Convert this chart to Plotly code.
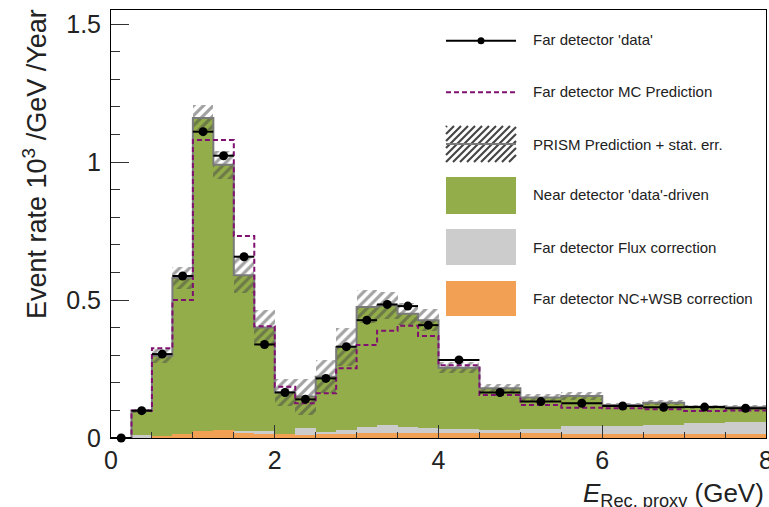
import numpy as np
import plotly.graph_objects as go

# ---------------- data ----------------
bin_edges = [0.0, 0.25, 0.5, 0.75, 1.0, 1.25, 1.5, 1.75, 2.0, 2.25, 2.5, 2.75, 3.0,
             3.25, 3.5, 3.75, 4.0, 4.5, 5.0, 5.5, 6.0, 6.5, 7.0, 7.5, 8.0]

fd_data = [0.0, 0.099, 0.304, 0.587, 1.110, 1.023, 0.657, 0.339, 0.165, 0.140, 0.216, 0.331,
           0.427, 0.484, 0.478, 0.409, 0.283, 0.165, 0.132, 0.126, 0.116, 0.111, 0.112, 0.108]

fd_mc = [0.0, 0.100, 0.325, 0.500, 1.080, 1.080, 0.732, 0.405, 0.186, 0.126, 0.162, 0.253,
         0.337, 0.389, 0.407, 0.370, 0.264, 0.156, 0.120, 0.110, 0.108, 0.104, 0.098, 0.100]

nd_driven = [0.0, 0.086, 0.292, 0.567, 1.133, 0.962, 0.565, 0.374, 0.152, 0.113, 0.200, 0.300,
             0.435, 0.432, 0.409, 0.392, 0.224, 0.152, 0.113, 0.109, 0.077, 0.080, 0.057, 0.052]

flux_corr = [0.0, 0.012, 0.0, 0.0, 0.0, 0.0, 0.006, 0.012, 0.0, 0.025, 0.006, 0.014,
             0.022, 0.029, 0.022, 0.016, 0.012, 0.010, 0.016, 0.027, 0.027, 0.033, 0.041, 0.044]

nc_wsb_corr = [0.0, 0.0, 0.006, 0.013, 0.027, 0.028, 0.019, 0.014, 0.013, 0.012, 0.016, 0.016,
               0.018, 0.019, 0.019, 0.019, 0.019, 0.018, 0.018, 0.016, 0.016, 0.015, 0.015, 0.015]

prism_stat_err = [0.0, 0.006, 0.025, 0.040, 0.045, 0.050, 0.065, 0.065, 0.050, 0.065, 0.060, 0.070,
                  0.060, 0.050, 0.040, 0.040, 0.020, 0.015, 0.012, 0.015, 0.008, 0.010, 0.008, 0.008]

legend_labels = ["Far detector 'data'", "Far detector MC Prediction", "PRISM Prediction + stat. err.",
                 "Near detector 'data'-driven", "Far detector Flux correction",
                 "Far detector NC+WSB correction"]

# ---------------- styles ----------------
GREEN = "#93AD4A"
GREY = "#CCCCCC"
ORANGE = "#F2A154"
PURPLE = "#7F1170"
HATCH = "#454545"
LINEGREY = "#7A7A7A"
FONT = "Liberation Sans, Arial, sans-serif"

edges = np.array(bin_edges)
centers = 0.5 * (edges[:-1] + edges[1:])
widths = edges[1:] - edges[:-1]
nc = np.array(nc_wsb_corr)
fl = np.array(flux_corr)
nd = np.array(nd_driven)
total = nc + fl + nd
err = np.array(prism_stat_err)

fig = go.Figure()

common_bar = dict(x=centers, width=widths, marker_line_width=0, showlegend=False, hoverinfo="skip")
fig.add_trace(go.Bar(y=nc, base=np.zeros_like(nc), marker_color=ORANGE, **common_bar))
fig.add_trace(go.Bar(y=fl, base=nc, marker_color=GREY, **common_bar))
fig.add_trace(go.Bar(y=nd, base=nc + fl, marker_color=GREEN, **common_bar))
# hatched stat. error band
fig.add_trace(go.Bar(y=2 * err, base=total - err,
                     marker=dict(color="rgba(0,0,0,0)", line_width=0,
                                 pattern=dict(shape="/", fgcolor=HATCH, size=7, solidity=0.45,
                                              fillmode="overlay")),
                     x=centers, width=widths, showlegend=False, hoverinfo="skip"))

# PRISM prediction line
fig.add_trace(go.Scatter(x=edges, y=np.append(total, total[-1]), mode="lines",
                         line=dict(color=LINEGREY, width=2, shape="hv"), showlegend=False))
# MC prediction
mc = np.array(fd_mc)
fig.add_trace(go.Scatter(x=edges, y=np.append(mc, mc[-1]), mode="lines",
                         line=dict(color=PURPLE, width=2, shape="hv", dash="5px,3px"),
                         showlegend=False))
# data
fig.add_trace(go.Scatter(x=centers, y=fd_data, mode="markers",
                         marker=dict(color="black", size=9),
                         error_x=dict(type="data", array=widths / 2, color="black",
                                      thickness=2, width=0),
                         cliponaxis=False, showlegend=False))

# ---------------- layout ----------------
L, R, T, B = 111, 3, 10, 69
W, H = 769, 507
pw, ph = W - L - R, H - T - B


def px(xp):
    return (xp - L) / pw


def py(yp):
    return (H - B - yp) / ph


shapes = []
annotations = []
sx0, sx1 = 446, 516
# legend 1: data
shapes.append(dict(type="line", xref="paper", yref="paper", x0=px(sx0), x1=px(sx1),
                   y0=py(40.7), y1=py(40.7), line=dict(color="black", width=2)))
shapes.append(dict(type="circle", xref="paper", yref="paper", x0=px(477.5), x1=px(484.5),
                   y0=py(44.2), y1=py(37.2), fillcolor="black", line=dict(color="black", width=0)))
# legend 2: MC dashed
shapes.append(dict(type="line", xref="paper", yref="paper", x0=px(sx0), x1=px(sx1),
                   y0=py(92.3), y1=py(92.3), line=dict(color=PURPLE, width=2, dash="5px,3px")))
# legend 3: hatch box
hy0, hy1 = 126, 162
step = 7
for k in range(-6, 16):
    xa = sx0 + k * step
    xb = xa + (hy1 - hy0)
    ya, yb = hy1, hy0
    if xa < sx0:
        ya = hy1 - (sx0 - xa)
        xa = sx0
    if xb > sx1:
        yb = hy0 + (xb - sx1)
        xb = sx1
    if xa >= xb:
        continue
    shapes.append(dict(type="line", xref="paper", yref="paper", x0=px(xa), x1=px(xb),
                       y0=py(ya), y1=py(yb), line=dict(color=HATCH, width=2.2)))
shapes.append(dict(type="line", xref="paper", yref="paper", x0=px(sx0), x1=px(sx1),
                   y0=py(144), y1=py(144), line=dict(color=LINEGREY, width=2)))
# legend 4-6: boxes
for (c, y0, y1) in [(GREEN, 177, 214), (GREY, 229, 265), (ORANGE, 281, 316)]:
    shapes.append(dict(type="rect", xref="paper", yref="paper", x0=px(sx0), x1=px(sx1),
                       y0=py(y1), y1=py(y0), fillcolor=c, line=dict(width=0)))

for lab, yc in zip(legend_labels, [40, 92, 144, 195, 247, 298]):
    annotations.append(dict(text=lab, xref="paper", yref="paper", x=px(531), y=py(yc),
                            xanchor="left", yanchor="middle", showarrow=False,
                            font=dict(family=FONT, size=15, color="#222")))

# axis titles
annotations.append(dict(text="Event rate 10<sup>3</sup> /GeV /Year", xref="paper", yref="paper",
                        x=px(35), y=py(164), textangle=-90, xanchor="center", yanchor="middle",
                        showarrow=False, font=dict(family=FONT, size=27, color="#222")))
annotations.append(dict(text="<i>E</i><sub>Rec. proxy</sub> (GeV)", xref="paper", yref="paper",
                        x=1.0, y=py(495), xanchor="right", yanchor="middle",
                        showarrow=False, font=dict(family=FONT, size=26, color="#222")))

fig.update_layout(
    width=W, height=H, margin=dict(l=L, r=R, t=T, b=B, autoexpand=False),
    barmode="overlay", bargap=0, plot_bgcolor="white", paper_bgcolor="white",
    shapes=shapes, annotations=annotations, showlegend=False,
    font=dict(family=FONT, color="#222"),
)
fig.update_xaxes(range=[0, 8], tickvals=[0, 2, 4, 6, 8], ticks="inside", ticklen=13,
                 tickwidth=1, tickcolor="#333", showgrid=False, zeroline=False,
                 showline=True, linecolor="black", linewidth=1, mirror=True,
                 ticklabeloverflow="allow", automargin=False,
                 tickfont=dict(family=FONT, size=25, color="#222"),
                 minor=dict(ticks="inside", ticklen=6, dtick=0.5, tickcolor="#333", showgrid=False))
fig.update_yaxes(range=[0, 1.551], tickvals=[0, 0.5, 1, 1.5], ticktext=["0", "0.5", "1", "1.5"],
                 ticks="inside", ticklen=18, tickwidth=1, tickcolor="#333", showgrid=False,
                 zeroline=False, showline=True, linecolor="black", linewidth=1, mirror=True,
                 automargin=False,
                 tickfont=dict(family=FONT, size=25, color="#222"), ticklabelstandoff=4,
                 minor=dict(ticks="inside", ticklen=9, dtick=0.1, tickcolor="#333", showgrid=False))

fig.write_html("out.html", config={"displayModeBar": False},
               post_script="document.body.style.margin='0';document.body.style.overflow='hidden';")
